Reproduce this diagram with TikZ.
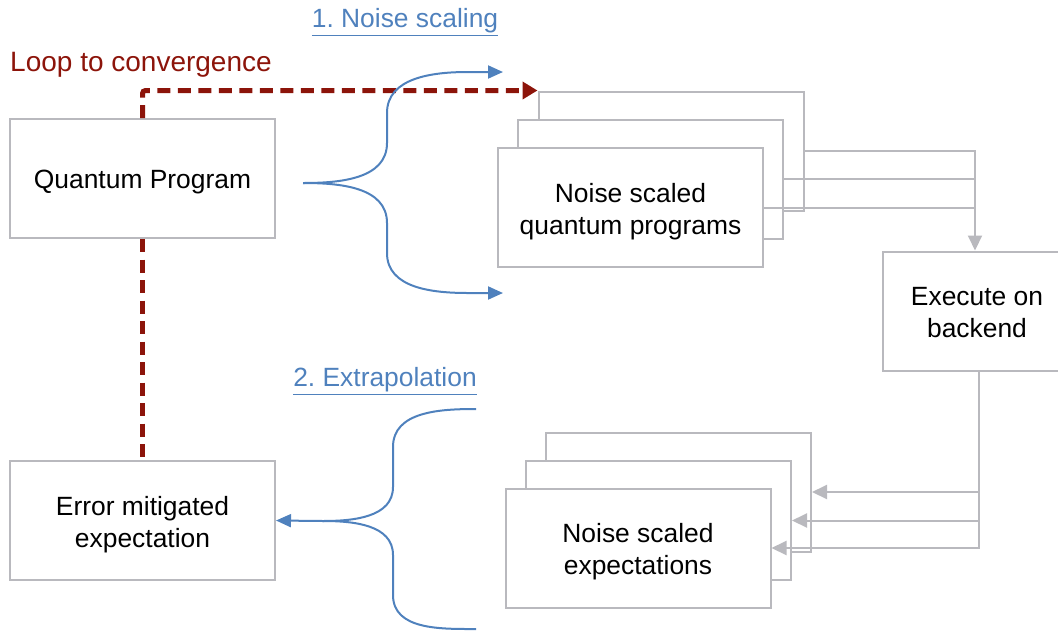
\documentclass[tikz,border=0pt]{standalone}
\usepackage{fontspec}
\setmainfont{Liberation Sans}
\usetikzlibrary{arrows.meta}
\definecolor{boxgray}{RGB}{185,185,190}
\definecolor{loopred}{RGB}{140,20,10}
\definecolor{braceblue}{RGB}{79,129,189}
\frenchspacing
\begin{document}
\begin{tikzpicture}[x=1pt,y=-1pt,
  box/.style={draw=boxgray, line width=2pt, fill=white, minimum width=265pt,
    minimum height=119pt, inner sep=0pt},
  boxtext/.style={inner sep=0pt, align=center, font=\fontsize{26.4}{32}\selectfont},
  feed/.style={draw=boxgray, line width=2pt},
  feedtip/.style={-{Triangle[width=14pt,length=15pt]}},
  loopline/.style={draw=loopred, line width=5pt, dash pattern=on 13pt off 7.5pt},
  looptip/.style={-{Triangle[width=17pt,length=15pt]}},
  brace/.style={draw=braceblue, line width=2pt},
  bracetip/.style={-{Triangle[width=13pt,length=15pt]}},
  bluelabel/.style={text=braceblue, inner sep=0pt, font=\fontsize{26.4}{32}\selectfont},
  looplabel/.style={text=loopred, inner sep=0pt, font=\fontsize{28}{34}\selectfont}]
\useasboundingbox (0,0) rectangle (1058,630);

% left boxes
\node[box] (qp) at (142.5,178.5) {};
\node[boxtext] (qpt) at ([yshift=-4pt]qp.center) {Quantum Program};
\node[box] (em) at (142.5,520.5) {};
\node[boxtext] (emt) at ([yshift=-4pt]em.center) {Error mitigated\\expectation};

% noise scaled programs stack
\node[box] (nsq3) at (671,151) {};
\node[box] (nsq2) at (650.5,179) {};
\node[box] (nsq1) at (630.5,207.5) {};
\node[boxtext] (nsqt) at ([yshift=-4pt]nsq1.center) {Noise scaled\\quantum programs};

% execute box
\node[box, minimum width=188pt] (exe) at (977,311) {};
\node[boxtext] (exet) at ([yshift=-2pt]exe.center) {Execute on\\backend};
\coordinate (busT) at ([xshift=-2pt]exe.north);
\coordinate (busB) at ([xshift=2pt]exe.south);

% noise scaled expectations stack
\node[box] (nse3) at (678.5,492) {};
\node[box] (nse2) at (658.5,520.5) {};
\node[box] (nse1) at (638,548) {};
\node[boxtext] (nset) at ([yshift=-4pt]nse1.center) {Noise scaled\\expectations};

% labels
\node[bluelabel] (lab1) at (405,22) {\underline{1. Noise scaling}};
\node[bluelabel] (lab2) at (385,381) {\underline{2. Extrapolation}};
\node[looplabel] (lab3) at (141,65) {Loop to convergence};

% feeds to backend
\draw[feed, feedtip] (nsq3.east) -| (busT);
\draw[feed] (nsq2.east) -- (nsq2.east -| busT);
\draw[feed] (nsq1.east) -- (nsq1.east -| busT);

% feeds from backend
\draw[feed, feedtip] (busB) |- (nse1.east);
\draw[feed, feedtip] (nse2.east -| busB) -- (nse2.east);
\draw[feed, feedtip] (nse3.east -| busB) -- (nse3.east);

% loop to convergence
\draw[loopline, looptip, rounded corners=3pt] (qp.north) |- (nsq3.north west);
\draw[loopline] (qp.south) -- (em.north);

% noise scaling brace
\coordinate (b1) at (303,183);
\coordinate (b1u) at (503,72);
\coordinate (b1d) at (503,293);
\draw[brace, bracetip] (b1) to[out=0,in=-90] (387,143) -- (387,113)
  to[out=90,in=180] (468,72) -- (b1u);
\draw[brace, bracetip] (b1) to[out=0,in=90] (387,223) -- (387,253)
  to[out=-90,in=180] (468,293) -- (b1d);

% extrapolation brace
\coordinate (e1) at (323,521);
\coordinate (etop) at (476,409);
\coordinate (ebot) at (476,629);
\draw[brace] (etop) to[out=180,in=90] (393,447) -- (393,487) to[out=-90,in=0] (e1);
\draw[brace] (ebot) to[out=180,in=-90] (393,595) -- (393,555) to[out=90,in=0] (e1);
\draw[brace, bracetip] (e1) -- (em.east);
\end{tikzpicture}
\end{document}
